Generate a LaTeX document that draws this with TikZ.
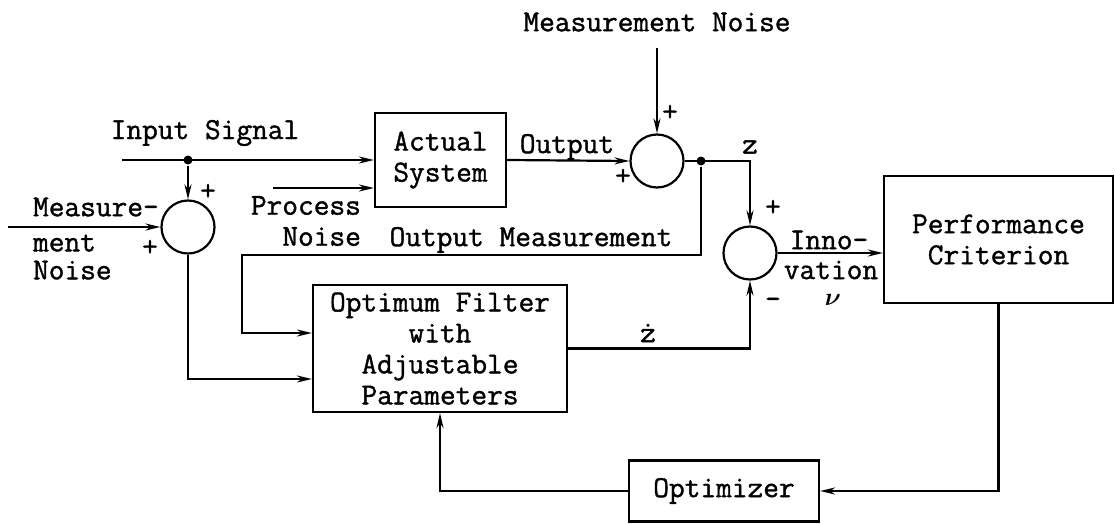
\documentclass[tikz,border=0pt]{standalone}
\usepackage{fontspec}
\usepackage{bm}
\newfontfamily\typer{Latin Modern Mono}[FakeBold=1.2]
\usetikzlibrary{positioning,calc,arrows.meta}

\begin{document}
\begin{tikzpicture}[x=1pt, y=-1pt, >={Stealth[length=15pt,width=7pt]},
    line width=2.2pt, font=\typer\fontsize{30.5}{31}\selectfont]
    \tikzstyle{block} = [draw, rectangle, align=center, inner sep=0pt]
    \tikzstyle{sum node} = [draw, circle, minimum size=53pt, inner sep=0pt]
    \tikzstyle{lbl} = [inner sep=0pt]
    \tikzstyle{junction} = [circle, fill, minimum size=9pt, inner sep=0pt]
    \useasboundingbox (0,0) rectangle (1115,524);
    % blocks and summing points
    \node[block, minimum width=131pt, minimum height=94pt] (system) at (440.5,160) {Actual\\System};
    \node[block, minimum width=254pt, minimum height=127pt] (filter) at (440,348.5) {Optimum Filter\\with\\Adjustable\\Parameters};
    \node[block, minimum width=229pt, minimum height=127pt] (perf) at (998.5,239.5) {Performance\\Criterion};
    \node[block, minimum width=190pt, minimum height=61pt] (opt) at (724,491) {Optimizer};
    \node[sum node] (s1) at (188,227) {};
    \node[sum node] (s2) at (657,161) {};
    \node[sum node] (s3) at (750,253) {};
    % free ends
    \coordinate (insig) at (122,160);
    \coordinate (pnoise) at (273,188);
    \coordinate (mnoise1) at (8,227);
    \coordinate (mnoise2) at (657,48);
    \coordinate (zc) at (s3 |- s2);
    \coordinate (omeas) at (242,255);
    \node[junction] (j1) at (s1 |- insig) {};
    \node[junction] (j2) at (701,161) {};
    % connectors
    \draw[->] (insig) -- (system.west);
    \draw[->] (j1) -- (s1);
    \draw[->] (pnoise) -- (pnoise -| system.west);
    \draw[->] (mnoise1) -- (s1);
    \draw[->] (mnoise2) -- (s2);
    \draw[->] (system.east) -- (s2.west);
    \draw[->] (s2.east) -- (zc) -- (s3.north);
    \draw[->] (j2) |- (omeas) |- ([yshift=15.5pt]filter.west);
    \draw[->] (s1.south) |- ([yshift=-30.5pt]filter.west);
    \draw[->] (filter.east) -| (s3.south);
    \draw[->] (s3.east) -- (s3.east -| perf.west);
    \draw[->] (perf.south) |- (opt.east);
    \draw[->] (opt.west) -| (filter.south);
    % labels
    \node[lbl] (insiglbl) at (205,133) {Input Signal};
    \node[lbl, align=right, anchor=east] (pnoiselbl) at (362,221) {Process\\Noise};
    \node[lbl] (omeaslbl) at (531,240) {Output Measurement};
    \node[lbl] (outlbl) at (567,147) {Output};
    \node[lbl] (mnoise2lbl) at (657,22) {Measurement Noise};
    \node[lbl, anchor=west] (mnoise1lbl) at (32,207) {Measure-};
    \node[lbl, anchor=west, align=left, font=\typer\fontsize{30.5}{28}\selectfont] (mnoise1lblb) at (32,257) {ment\\Noise};
    \node[lbl] (zlbl) at (750,147) {z};
    \node[lbl] (zhatlbl) at (648,333) {ż};
    \node[lbl] (innolbl) at (829,240) {Inno-};
    \node[lbl] (vationlbl) at (831,270) {vation};
    \node[lbl] (nulbl) at (833,300) {$\bm{\nu}$};
    % signs
    \node[lbl] at (208,192) {+};
    \node[lbl] at (150,248) {+};
    \node[lbl] at (670,113) {+};
    \node[lbl] at (623,177) {+};
    \node[lbl] at (773,208) {+};
    \node[lbl] at (773,303) {-};
\end{tikzpicture}
\end{document}
